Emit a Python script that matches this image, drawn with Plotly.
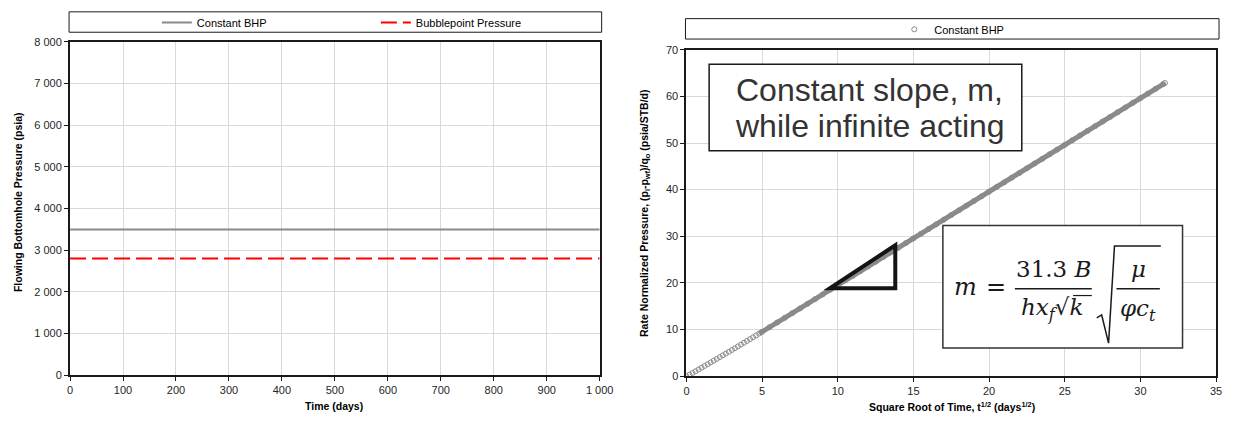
import plotly.graph_objects as go

# ---------------- data ----------------
time_days = [0, 1000]
constant_bhp_psia = [3500, 3500]
bubblepoint_psia = [2800, 2800]

sqrt_time = [0.0, 0.2, 0.4, 0.6, 0.8, 1.0, 1.2, 1.4, 1.6, 1.8, 2.0, 2.2, 2.4, 2.6,
             2.8, 3.0, 3.2, 3.4, 3.6, 3.8, 4.0, 4.2, 4.4, 4.6, 4.8, 5.0,
             5.5, 6.0, 6.5, 7.0, 7.5, 8.0, 8.5, 9.0, 9.5, 10.0, 10.5, 11.0, 11.5,
             12.0, 12.5, 13.0, 13.5, 14.0, 14.5, 15.0, 15.5, 16.0, 16.5, 17.0,
             17.5, 18.0, 18.5, 19.0, 19.5, 20.0, 20.5, 21.0, 21.5, 22.0, 22.5,
             23.0, 23.5, 24.0, 24.5, 25.0, 25.5, 26.0, 26.5, 27.0, 27.5, 28.0,
             28.5, 29.0, 29.5, 30.0, 30.5, 31.0, 31.5, 31.62]
rate_norm_pressure = [0.00, 0.33, 0.70, 1.07, 1.44, 1.82, 2.19, 2.57, 2.95, 3.33,
                      3.71, 4.09, 4.47, 4.85, 5.23, 5.62, 6.00, 6.39, 6.78, 7.17,
                      7.56, 7.95, 8.34, 8.73, 9.13, 9.52,
                      10.52, 11.52, 12.52, 13.52, 14.52, 15.52, 16.53, 17.53, 18.53,
                      19.53, 20.53, 21.53, 22.53, 23.54, 24.54, 25.54, 26.54, 27.54,
                      28.54, 29.55, 30.55, 31.55, 32.55, 33.55, 34.56, 35.56, 36.56,
                      37.56, 38.56, 39.57, 40.57, 41.57, 42.57, 43.57, 44.58, 45.58,
                      46.58, 47.58, 48.58, 49.59, 50.59, 51.59, 52.59, 53.60, 54.60,
                      55.60, 56.60, 57.60, 58.61, 59.61, 60.61, 61.61, 62.62, 62.86]

# slope triangle corners (sqrt-time, pressure)
tri_x = [9.48, 13.8, 13.8]
tri_y = [18.86, 18.86, 28.07]

W, H = 1235, 423
def px(x):
    return x / W
def py(y):
    return 1 - y / H

FONT = "Liberation Sans, Arial, sans-serif"
SERIF = "DejaVu Serif, Liberation Serif, serif"
GRAY = "#8a8a8a"

fig = go.Figure()

fig.add_trace(go.Scatter(x=time_days, y=constant_bhp_psia, mode="lines",
                         name="Constant BHP", line=dict(color=GRAY, width=2),
                         xaxis="x", yaxis="y", legend="legend"))
fig.add_trace(go.Scatter(x=time_days, y=bubblepoint_psia, mode="lines",
                         name="Bubblepoint Pressure",
                         line=dict(color="#ff0000", width=2, dash="16px,6px"),
                         xaxis="x", yaxis="y", legend="legend"))

k = 24
fig.add_trace(go.Scatter(x=sqrt_time[k:], y=rate_norm_pressure[k:], mode="lines",
                         line=dict(color=GRAY, width=5), showlegend=False,
                         hoverinfo="skip", xaxis="x2", yaxis="y2"))
fig.add_trace(go.Scatter(x=sqrt_time, y=rate_norm_pressure, mode="markers",
                         name="Constant BHP",
                         marker=dict(symbol="circle-open", size=5, color=GRAY,
                                     line=dict(width=1, color=GRAY)),
                         xaxis="x2", yaxis="y2", legend="legend2"))

axis_common = dict(showgrid=True, gridcolor="#d9d9d9", gridwidth=1,
                   showline=True, linecolor="#1a1a1a", linewidth=2, mirror=True,
                   ticks="outside", ticklen=4, tickcolor="#1a1a1a",
                   tickfont=dict(family=FONT, size=11, color="#262626"),
                   zeroline=False, fixedrange=True)

fig.update_layout(
    width=W, height=H, autosize=False,
    margin=dict(l=0, r=0, t=0, b=0),
    paper_bgcolor="white", plot_bgcolor="white",
    separators=". ",
    font=dict(family=FONT, color="#262626"),
    xaxis=dict(domain=[px(68), px(605)], range=[0, 1000], dtick=100,
               tickformat=",d", anchor="y", **axis_common),
    yaxis=dict(domain=[py(380), py(37)], range=[0, 8000], dtick=1000,
               tickformat=",d", anchor="x", **axis_common),
    xaxis2=dict(domain=[px(693), px(1230)], range=[0, 35], dtick=5,
                anchor="y2", **axis_common),
    yaxis2=dict(domain=[py(381), py(45)], range=[0, 70], dtick=10,
                anchor="x2", **axis_common),
    legend=dict(orientation="h", x=px(156), y=py(17), xanchor="left",
                yanchor="middle", bgcolor="rgba(0,0,0,0)", borderwidth=0,
                font=dict(family=FONT, size=11, color="#000"),
                entrywidth=174, entrywidthmode="pixels", itemwidth=30),
    legend2=dict(orientation="h", x=px(962), y=py(24), xanchor="center",
                 yanchor="middle", bgcolor="rgba(0,0,0,0)", borderwidth=0,
                 font=dict(family=FONT, size=11, color="#000"), itemwidth=30),
)

shapes = []
# legend frames
shapes.append(dict(type="rect", xref="paper", yref="paper",
                   x0=px(67), x1=px(607), y0=py(27), y1=py(6),
                   line=dict(color="#1a1a1a", width=1)))
shapes.append(dict(type="rect", xref="paper", yref="paper",
                   x0=px(692), x1=px(1233), y0=py(34), y1=py(13),
                   line=dict(color="#1a1a1a", width=1)))
# slope triangle
tri_path = "M {},{} L {},{} L {},{} Z".format(tri_x[0], tri_y[0], tri_x[1], tri_y[1],
                                               tri_x[2], tri_y[2])
shapes.append(dict(type="path", xref="x2", yref="y2", path=tri_path,
                   line=dict(color="#141414", width=4)))
# text box frame
shapes.append(dict(type="rect", xref="paper", yref="paper",
                   x0=px(716), x1=px(1033), y0=py(149), y1=py(60),
                   line=dict(color="#1a1a1a", width=1.5), fillcolor="white", layer="above"))
# formula box
shapes.append(dict(type="rect", xref="paper", yref="paper",
                   x0=px(953), x1=px(1196), y0=py(352), y1=py(226),
                   line=dict(color="#333", width=1.5), fillcolor="white", layer="above"))
# fraction bars
shapes.append(dict(type="line", xref="paper", yref="paper",
                   x0=px(1026), x1=px(1104), y0=py(291), y1=py(291),
                   line=dict(color="#1a1a1a", width=1.6), layer="above"))
shapes.append(dict(type="line", xref="paper", yref="paper",
                   x0=px(1129), x1=px(1173), y0=py(291), y1=py(291),
                   line=dict(color="#1a1a1a", width=1.6), layer="above"))
# big radical
rad = "M {},{} L {},{} L {},{} L {},{} L {},{}".format(
    px(1109), py(321), px(1114), py(318), px(1121), py(347), px(1127), py(247),
    px(1174), py(247))
shapes.append(dict(type="path", xref="paper", yref="paper", path=rad,
                   line=dict(color="#1a1a1a", width=1.5), layer="above"))
# small radical overline over k
shapes.append(dict(type="line", xref="paper", yref="paper",
                   x0=px(1085), x1=px(1104), y0=py(298), y1=py(298),
                   line=dict(color="#1a1a1a", width=1.2), layer="above"))
fig.update_layout(shapes=shapes)

ann = []
# text box lines
def btext(y, t):
    ann.append(dict(xref="paper", yref="paper", x=px(879), y=py(y), xanchor="center",
                    yanchor="middle", showarrow=False, text=t,
                    font=dict(family=FONT, size=32, color="#333")))
btext(86, "Constant slope, m,")
btext(123, "while infinite acting")

# formula pieces
def ftext(x, y, t, size=23):
    ann.append(dict(xref="paper", yref="paper", x=px(x), y=py(y), xanchor="center",
                    yanchor="middle", showarrow=False, text=t,
                    font=dict(family=SERIF, size=size, color="#1a1a1a")))
ftext(976, 289, "<i>m</i>", 24)
ftext(1007, 289, "=", 24)
ftext(1065, 271, "31.3 <i>B</i>", 23)
ftext(1064, 312, "<i>hx<sub>f</sub></i>√<i>k</i>", 23)
ftext(1151, 271, "<i>μ</i>", 23)
ftext(1151, 313, "<i>φc<sub>t</sub></i>", 23)

# axis titles
def title(x, y, t, angle=0):
    ann.append(dict(xref="paper", yref="paper", x=px(x), y=py(y), xanchor="center",
                    yanchor="middle", showarrow=False, text=t, textangle=angle,
                    font=dict(family=FONT, size=10.5, color="#000")))
title(336, 412, "<b>Time (days)</b>")
title(15, 202, "<b>Flowing Bottomhole Pressure (psia)</b>", -90)
title(962, 412, "<b>Square Root of Time, t<sup>1/2</sup> (days<sup>1/2</sup>)</b>")
title(651, 213, "<b>Rate Normalized Pressure, (p<sub>i</sub>-p<sub>wf</sub>)/q<sub>o</sub> (psia/STB/d)</b>", -90)
fig.update_layout(annotations=ann)

fig.write_html("out.html")
